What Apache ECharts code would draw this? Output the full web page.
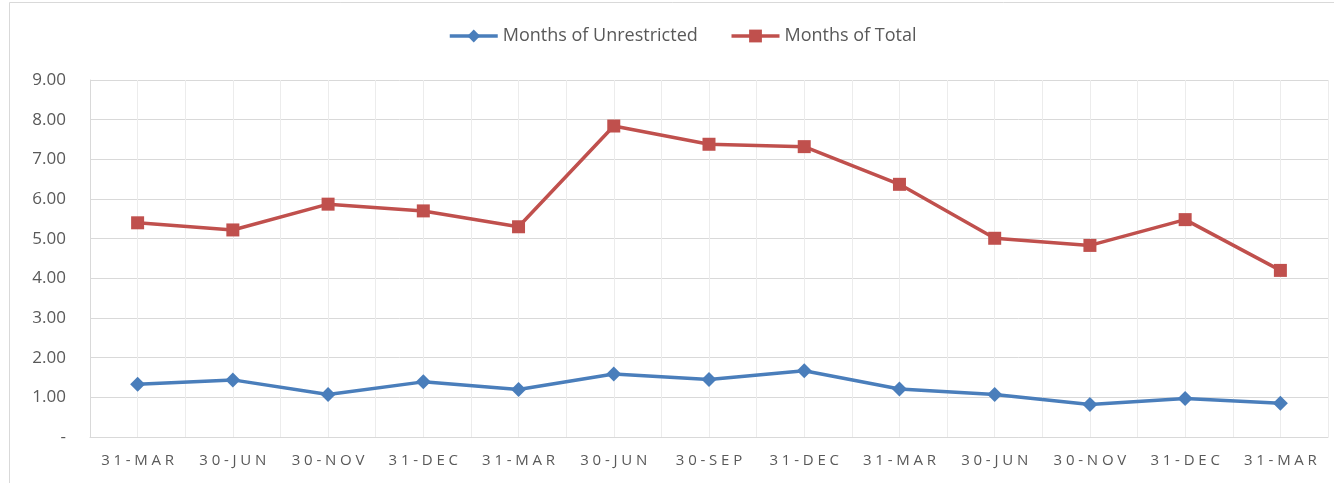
<!DOCTYPE html>
<html>
<head>
<meta charset="utf-8">
<script src="https://cdn.jsdelivr.net/npm/echarts@6/dist/echarts.min.js"></script>
<style>
  html, body { margin: 0; padding: 0; background: #fff; }
  #chart { width: 1334px; height: 483px; }
</style>
</head>
<body>
<div id="chart"></div>
<script>
var categories = ["31-MAR", "30-JUN", "30-NOV", "31-DEC", "31-MAR", "30-JUN", "30-SEP", "31-DEC", "31-MAR", "30-JUN", "30-NOV", "31-DEC", "31-MAR"];
var unrestricted = [1.33, 1.44, 1.07, 1.39, 1.20, 1.59, 1.45, 1.67, 1.21, 1.07, 0.82, 0.97, 0.85];
var total = [5.40, 5.22, 5.87, 5.70, 5.30, 7.84, 7.38, 7.32, 6.37, 5.01, 4.83, 5.48, 4.20];
var yTicks = [0, 1, 2, 3, 4, 5, 6, 7, 8, 9];

var dom = document.getElementById("chart"),
    myChart = echarts.init(dom);

var textColor = "#595959";

var option = {
    animation: false,
    backgroundColor: "#fff",
    graphic: [{
        type: "rect",
        shape: { x: 9.5, y: 2.5, width: 1400, height: 600 },
        style: { fill: "none", stroke: "#d9d9d9", lineWidth: 1 },
        silent: true
    }],
    legend: {
        top: 22,
        left: 443,
        itemWidth: 48,
        itemHeight: 16,
        itemGap: 32,
        lineStyle: { width: 3.5 },
        textStyle: { color: textColor, fontSize: 18, fontFamily: "Open Sans" },
        data: ["Months of Unrestricted", "Months of Total"]
    },
    grid: { left: 90, right: 6, top: 80, bottom: 46 },
    xAxis: [{
        type: "category",
        data: categories,
        boundaryGap: true,
        axisLine: { lineStyle: { color: "#d9d9d9", width: 1 } },
        axisTick: { show: false },
        splitLine: { show: true, lineStyle: { color: "#d9d9d9", width: 1 } },
        axisLabel: {
            color: textColor,
            fontSize: 15,
            fontFamily: "Open Sans",
            margin: 16,
            formatter: function(v) { return v.split("").join("\u2005"); }
        }
    }, {
        type: "value",
        min: 0,
        max: 26,
        interval: 1,
        show: true,
        axisLine: { show: false },
        axisTick: { show: false },
        axisLabel: { show: false },
        splitLine: { show: true, lineStyle: { color: "#ececec", width: 1 } }
    }],
    yAxis: {
        type: "value",
        min: yTicks[0],
        max: yTicks[yTicks.length - 1],
        interval: 1,
        axisLine: { show: true, lineStyle: { color: "#d9d9d9", width: 1 } },
        axisTick: { show: false },
        splitLine: { lineStyle: { color: "#d9d9d9", width: 1 } },
        axisLabel: {
            color: textColor,
            fontSize: 17,
            fontFamily: "Open Sans",
            margin: 24,
            formatter: function(v) { return v === 0 ? "-" : v.toFixed(2); }
        }
    },
    series: [{
        name: "Months of Unrestricted",
        type: "line",
        data: unrestricted,
        symbol: "diamond",
        symbolSize: 15,
        lineStyle: { color: "#4a7ebb", width: 3.5 },
        itemStyle: { color: "#4a7ebb" },
        z: 3
    }, {
        name: "Months of Total",
        type: "line",
        data: total,
        symbol: "rect",
        symbolSize: 13,
        lineStyle: { color: "#c0504d", width: 3.5 },
        itemStyle: { color: "#c0504d" },
        z: 3
    }]
};

myChart.setOption(option, true);
</script>
</body>
</html>
